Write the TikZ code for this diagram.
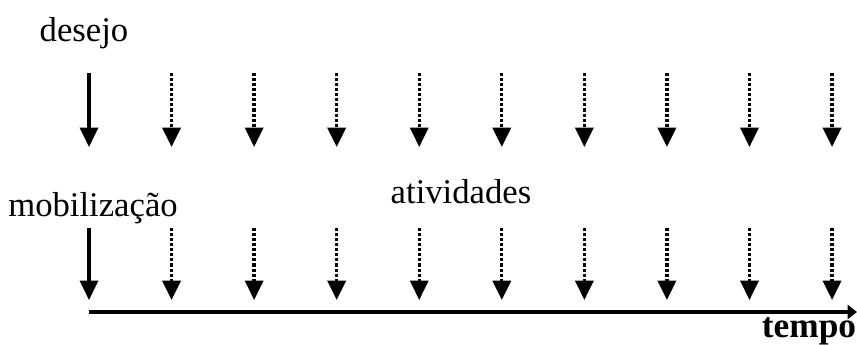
\documentclass[tikz,border=0pt]{standalone}
\usepackage{fontspec}
\setmainfont{Liberation Serif}
\usetikzlibrary{arrows.meta}

\tikzset{
  lbl/.style={anchor=base, inner sep=0pt, font=\fontsize{26}{30}\selectfont},
  firstarrow/.style={line width=2.6pt, -{Triangle[width=13.5pt, length=14.5pt]}},
  nextarrow/.style={line width=2.5pt, dash pattern=on 2.3pt off 1.5pt,
    -{Triangle[width=13.5pt, length=14.5pt]}},
  timeaxis/.style={line width=3.3pt, -{Triangle[width=10.5pt, length=7pt]}}
}

\begin{document}
\begin{tikzpicture}[x=0.75pt, y=-0.75pt]
\useasboundingbox (0,0) rectangle (857,345);
% labels
\node[lbl] (desejo) at (84,42) {desejo};
\node[lbl] (mobil) at (93,217) {mobilização};
\node[lbl] (ativ) at (461,204) {atividades};
\node[lbl, font=\fontsize{26.5}{30}\selectfont\bfseries] (tempo) at (809,338) {tempo};
% first arrows
\draw[firstarrow] (89,73) -- (89,147);
\draw[firstarrow] (89,228) -- (89,300);
% following arrows
\foreach \i in {1,...,9} {
  \draw[nextarrow] (89+82.56*\i,73) -- (89+82.56*\i,147);
  \draw[nextarrow] (89+82.56*\i,228) -- (89+82.56*\i,300);
}
% time axis
\coordinate (t0) at (89,312);
\coordinate (t1) at (857,312);
\draw[timeaxis] (t0) -- (t1);
\end{tikzpicture}
\end{document}
